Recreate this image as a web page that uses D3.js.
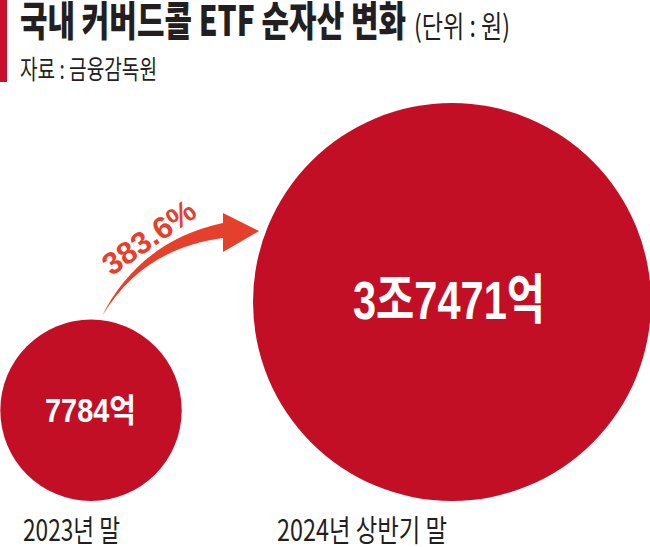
<!DOCTYPE html>
<html>
<head>
<meta charset="utf-8">
<script src="https://cdn.jsdelivr.net/npm/d3@7"></script>
<style>
  html, body { margin: 0; padding: 0; background: #fff; }
  svg { display: block; }
</style>
</head>
<body>
<div id="chart"></div>
<script>
// ---- data ----
const categories = ["2023년 말", "2024년 상반기 말"];
const values = [7784, 37471];          // 억원
const valueLabels = ["7784억", "3조7471억"];
const growthLabel = "383.6%";
const title = "국내 커버드콜 ETF 순자산 변화";
const unitLabel = "(단위 : 원)";
const sourceLabel = "자료 : 금융감독원";

// ---- layout ----
const W = 650, H = 547;
const circleRed = "#c20f25";
const arrowRed = "#e5402b";
const ink = "#231f20";
const krFont = "'Noto Sans CJK KR', 'Noto Sans', sans-serif";
const numFont = "'Liberation Sans Narrow', 'Liberation Sans', 'Noto Sans CJK KR', sans-serif";

const svg = d3.select("#chart").append("svg")
  .attr("width", W).attr("height", H)
  .style("background", "#fff");

// radius scale (area proportional)
const r = d3.scaleSqrt().domain([0, d3.max(values)]).range([0, 199]);
const cx = d3.scaleOrdinal().domain(categories).range([91, 452]);
const baseY = 501;

// header
svg.append("rect").attr("x", 0).attr("y", 0).attr("width", 7).attr("height", 82).attr("fill", "#c8102e");
svg.append("text").attr("x", 20).attr("y", 36)
  .attr("font-family", krFont).attr("font-weight", 900).attr("font-size", 41)
  .attr("fill", ink).attr("textLength", 386).attr("lengthAdjust", "spacingAndGlyphs")
  .text(title);
svg.append("text").attr("x", 414).attr("y", 37)
  .attr("font-family", krFont).attr("font-weight", 400).attr("font-size", 30)
  .attr("fill", ink).attr("textLength", 96).attr("lengthAdjust", "spacingAndGlyphs")
  .text(unitLabel);
svg.append("text").attr("x", 20).attr("y", 79)
  .attr("font-family", krFont).attr("font-weight", 400).attr("font-size", 26)
  .attr("fill", ink).attr("textLength", 137).attr("lengthAdjust", "spacingAndGlyphs")
  .text(sourceLabel);

// circles
const g = svg.append("g");
g.selectAll("circle").data(values).join("circle")
  .attr("cx", (d, i) => cx(categories[i]))
  .attr("cy", d => baseY - r(d))
  .attr("r", d => r(d))
  .attr("fill", circleRed);

// value labels inside circles
const labelSpec = [
  { size: 33, len: 91, dx: -0.5, dyBase: 12 },
  { size: 54, len: 192, dx: -3, dyBase: 17 }
];
g.selectAll("text.val").data(values).join("text")
  .attr("class", "val")
  .attr("x", (d, i) => cx(categories[i]) + labelSpec[i].dx)
  .attr("y", (d, i) => baseY - r(d) + labelSpec[i].dyBase)
  .attr("text-anchor", "middle")
  .attr("font-family", numFont).attr("font-weight", 700)
  .attr("font-size", (d, i) => labelSpec[i].size)
  .attr("fill", "#fff")
  .attr("textLength", (d, i) => labelSpec[i].len)
  .attr("lengthAdjust", "spacingAndGlyphs")
  .text((d, i) => valueLabels[i]);

// category labels
const catX = [23, 277], catLen = [97, 170];
svg.selectAll("text.cat").data(categories).join("text")
  .attr("class", "cat")
  .attr("x", (d, i) => catX[i]).attr("y", 541)
  .attr("font-family", krFont).attr("font-weight", 400).attr("font-size", 30)
  .attr("fill", ink)
  .attr("textLength", (d, i) => catLen[i]).attr("lengthAdjust", "spacingAndGlyphs")
  .text(d => d);

// growth arrow
const arrow = d3.path();
arrow.moveTo(102, 316);
arrow.bezierCurveTo(125, 270, 165, 235, 223, 223);
arrow.lineTo(223, 213);
arrow.lineTo(259, 231);
arrow.lineTo(223, 252);
arrow.lineTo(223, 238);
arrow.bezierCurveTo(170, 245, 130, 270, 102, 316);
arrow.closePath();
svg.append("path").attr("d", arrow.toString()).attr("fill", arrowRed);

svg.append("text")
  .attr("transform", "translate(155,246) rotate(-35)")
  .attr("text-anchor", "middle")
  .attr("font-family", "'Liberation Sans', Arial, sans-serif").attr("font-weight", 700)
  .attr("font-size", 31).attr("fill", arrowRed)
  .attr("textLength", 106).attr("lengthAdjust", "spacingAndGlyphs")
  .text(growthLabel);
</script>
</body>
</html>
